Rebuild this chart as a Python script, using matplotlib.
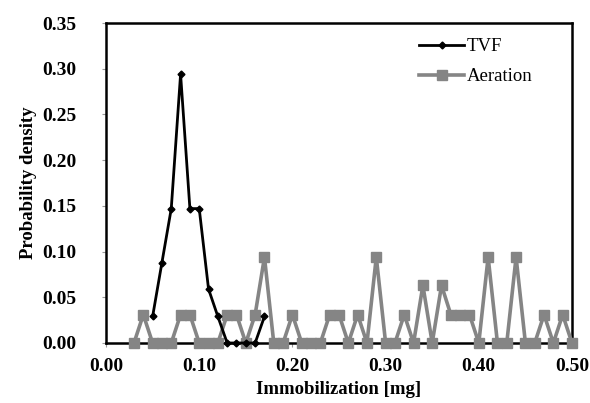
import numpy as np
import matplotlib.pyplot as plt

# TVF series
tvf_x = [0.05, 0.06, 0.07, 0.08, 0.09, 0.10, 0.11, 0.12, 0.13, 0.14, 0.15, 0.16, 0.17]
tvf_y = [0.029, 0.088, 0.147, 0.294, 0.147, 0.147, 0.059, 0.029, 0.0, 0.0, 0.0, 0.0, 0.029]

# Aeration series
aer_x = [0.03, 0.04, 0.05, 0.06, 0.07, 0.08, 0.09, 0.10, 0.11, 0.12,
         0.13, 0.14, 0.15, 0.16, 0.17, 0.18, 0.19, 0.20, 0.21, 0.22,
         0.23, 0.24, 0.25, 0.26, 0.27, 0.28, 0.29, 0.30, 0.31, 0.32,
         0.33, 0.34, 0.35, 0.36, 0.37, 0.38, 0.39, 0.40, 0.41, 0.42,
         0.43, 0.44, 0.45, 0.46, 0.47, 0.48, 0.49, 0.50]
aer_y = [0.0, 0.031, 0.0, 0.0, 0.0, 0.031, 0.031, 0.0, 0.0, 0.0,
         0.031, 0.031, 0.0, 0.031, 0.094, 0.0, 0.0, 0.031, 0.0, 0.0,
         0.0, 0.031, 0.031, 0.0, 0.031, 0.0, 0.094, 0.0, 0.0, 0.031,
         0.0, 0.063, 0.0, 0.063, 0.031, 0.031, 0.031, 0.0, 0.094, 0.0,
         0.0, 0.094, 0.0, 0.0, 0.031, 0.0, 0.031, 0.0]

xticks = [0.0, 0.1, 0.2, 0.3, 0.4, 0.5]
yticks = [0.0, 0.05, 0.10, 0.15, 0.20, 0.25, 0.30, 0.35]

plt.rcParams['font.family'] = ['Liberation Serif', 'DejaVu Serif']

fig = plt.figure(figsize=(5.9, 4.03), dpi=100)
ax = fig.add_axes([0.1797, 0.1489, 0.7898, 0.794])

ax.plot(tvf_x, tvf_y, color='black', linewidth=2.0, marker='D', markersize=3.5,
        label='TVF', zorder=4, clip_on=False)
ax.plot(aer_x, aer_y, color='#858585', linewidth=2.6, marker='s', markersize=6.5,
        label='Aeration', zorder=3, clip_on=False)

ax.set_xlim(0, 0.5)
ax.set_ylim(0, 0.35)
ax.set_xticks(xticks)
ax.set_yticks(yticks)
ax.set_xticklabels(['%.2f' % v for v in xticks], fontweight='bold', fontsize=14)
ax.set_yticklabels(['%.2f' % v for v in yticks], fontweight='bold', fontsize=14)
ax.tick_params(direction='out', length=3, width=0.8, color='#999999')
ax.tick_params(axis='y', pad=18)
ax.tick_params(axis='x', pad=8)

for s in ax.spines.values():
    s.set_linewidth(1.8)
    s.set_color('black')
    s.set_zorder(2)

ax.set_xlabel('Immobilization [mg]', fontweight='bold', fontsize=13.5, labelpad=4)
ax.set_ylabel('Probability density', fontweight='bold', fontsize=13.5, labelpad=4)

ax.legend(loc='upper left', bbox_to_anchor=(0.64, 1.0), frameon=False,
          fontsize=13.5, handlelength=2.4, handletextpad=0.15, labelspacing=0.7,
          borderpad=0.3)

fig.savefig('out.png', dpi=100)
